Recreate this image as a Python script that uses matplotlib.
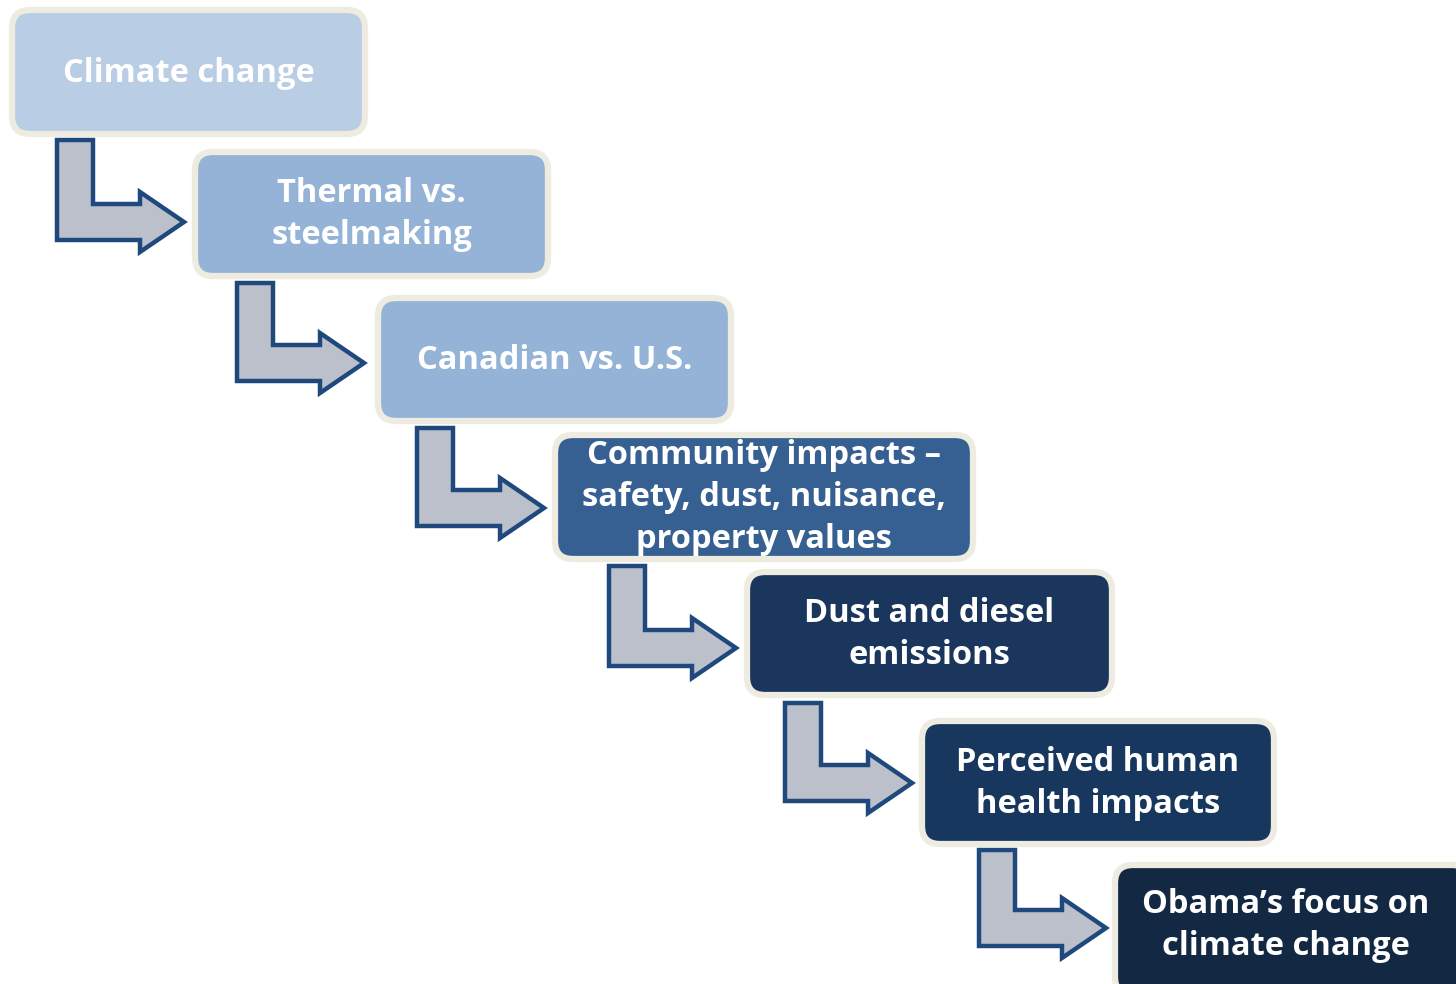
import matplotlib.pyplot as plt
from matplotlib.patches import FancyBboxPatch, Polygon

# step labels, top to bottom
labels = [
    'Climate change',
    'Thermal vs.\nsteelmaking',
    'Canadian vs. U.S.',
    'Community impacts \u2013\nsafety, dust, nuisance,\nproperty values',
    'Dust and diesel\nemissions',
    'Perceived human\nhealth impacts',
    'Obama\u2019s focus on\nclimate change',
]
fills = ['#B9CDE5', '#95B3D7', '#95B3D7', '#376092', '#1B365C', '#17375E', '#132843']

# box layout in pixels: left, top, right, bottom
boxes = [
    (12, 10, 365, 134),
    (195, 152, 548, 276),
    (378, 298, 731, 421),
    (555, 435, 973, 559),
    (747, 572, 1112, 695),
    (922, 721, 1274, 844),
    (1115, 865, 1470, 995),
]
# bent arrows: stem left x, stem top y, tip y
arrows = [
    (57, 140, 222),
    (237, 283, 363),
    (417, 428, 508),
    (609, 566, 648),
    (785, 703, 783),
    (979, 850, 928),
]

W, H = 1456, 984
fig = plt.figure(figsize=(W / 100, H / 100), dpi=100)
ax = fig.add_axes([0, 0, 1, 1])
ax.set_xlim(0, W)
ax.set_ylim(H, 0)
ax.axis('off')


def bent_arrow(x0, y0, yc):
    s = 36     # stem width
    hl = 44    # head length
    hw = 30    # half head height
    body = 83
    pts = [
        (x0, y0), (x0 + s, y0), (x0 + s, yc - s / 2), (x0 + body, yc - s / 2),
        (x0 + body, yc - hw), (x0 + body + hl, yc), (x0 + body, yc + hw),
        (x0 + body, yc + s / 2), (x0, yc + s / 2),
    ]
    return Polygon(pts, closed=True, facecolor='#BCC0CB', edgecolor='#1F497D',
                   linewidth=3.2, joinstyle='miter', zorder=1)


for (x0, y0, yc) in arrows:
    ax.add_patch(bent_arrow(x0, y0, yc))

for lab, col, (l, t, r, b) in zip(labels, fills, boxes):
    ax.add_patch(FancyBboxPatch((l, t), r - l, b - t,
                                boxstyle='round,pad=0,rounding_size=18',
                                facecolor=col, edgecolor='#EEECE1',
                                linewidth=4.5, zorder=2))
    cx = (l + min(r, W)) / 2
    cy = (t + min(b, H)) / 2 + 1
    ax.text(cx, cy, lab, ha='center', va='center', color='white',
            fontsize=23.5, fontweight='bold', family='Open Sans',
            linespacing=1.36, zorder=3)

fig.savefig('out.png', dpi=100)
